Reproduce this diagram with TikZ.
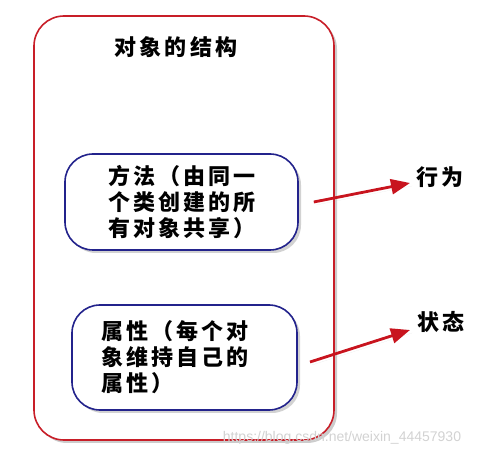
\documentclass[tikz,border=0pt]{standalone}
\usepackage{fontspec}
\setmainfont{Liberation Sans}
\newfontfamily\cjk[LetterSpace=14]{Noto Sans CJK SC}
\usetikzlibrary{arrows.meta,shadows}
\definecolor{boxred}{RGB}{200,30,40}
\definecolor{boxblue}{RGB}{35,35,140}
\definecolor{arrred}{RGB}{200,20,30}
\tikzset{
  outerbox/.style={draw=boxred,line width=1.6pt,rounded corners=30pt,fill=white,
    drop shadow={opacity=0.4,shadow xshift=3pt,shadow yshift=-3pt},
    minimum width=300pt,minimum height=424pt,inner sep=0pt},
  innerbox/.style={draw=boxblue,line width=1.6pt,rounded corners=28pt,fill=white,
    drop shadow={opacity=0.35,shadow xshift=3pt,shadow yshift=-3pt},inner sep=0pt},
  cjktext/.style={font=\cjk\fontsize{22pt}{26pt}\selectfont\bfseries,text=black,inner sep=0pt,align=left},
  arr/.style={draw=arrred,line width=2.8pt,-{Triangle[length=19pt,width=15pt]},
    drop shadow={opacity=0.3,shadow xshift=2pt,shadow yshift=-3pt}},
}
\begin{document}
\begin{tikzpicture}[x=1pt,y=-1pt]
\useasboundingbox (0,0) rectangle (488,457);
\node[outerbox] (outer) at (184,228) {};
\node[cjktext,anchor=center] (title) at (176,47) {对象的结构};
\node[innerbox,minimum width=233pt,minimum height=96pt] (method) at (181.5,202) {};
\node[cjktext,anchor=west] (mtext) at (108,202) {方法（由同一\\个类创建的所\\有对象共享）};
\node[innerbox,minimum width=225pt,minimum height=105pt] (attr) at (184.5,357.5) {};
\node[cjktext,anchor=west] (atext) at (101,357) {属性（每个对\\象维持自己的\\属性）};
\node[cjktext,anchor=west] (behav) at (416,177) {行为};
\node[cjktext,anchor=west] (state) at (417,322) {状态};
\coordinate (m1) at ([xshift=15pt]method.east);
\coordinate (m2) at (410,183);
\coordinate (a1) at (310,362);
\coordinate (a2) at (410,330);
\draw[arr] (m1) -- (m2);
\draw[arr] (a1) -- (a2);
\node[text=gray!35,font=\fontsize{14pt}{16pt}\selectfont,inner sep=0pt] (wm) at (342,438) {https://blog.csdn.net/weixin\_44457930};
\end{tikzpicture}
\end{document}
